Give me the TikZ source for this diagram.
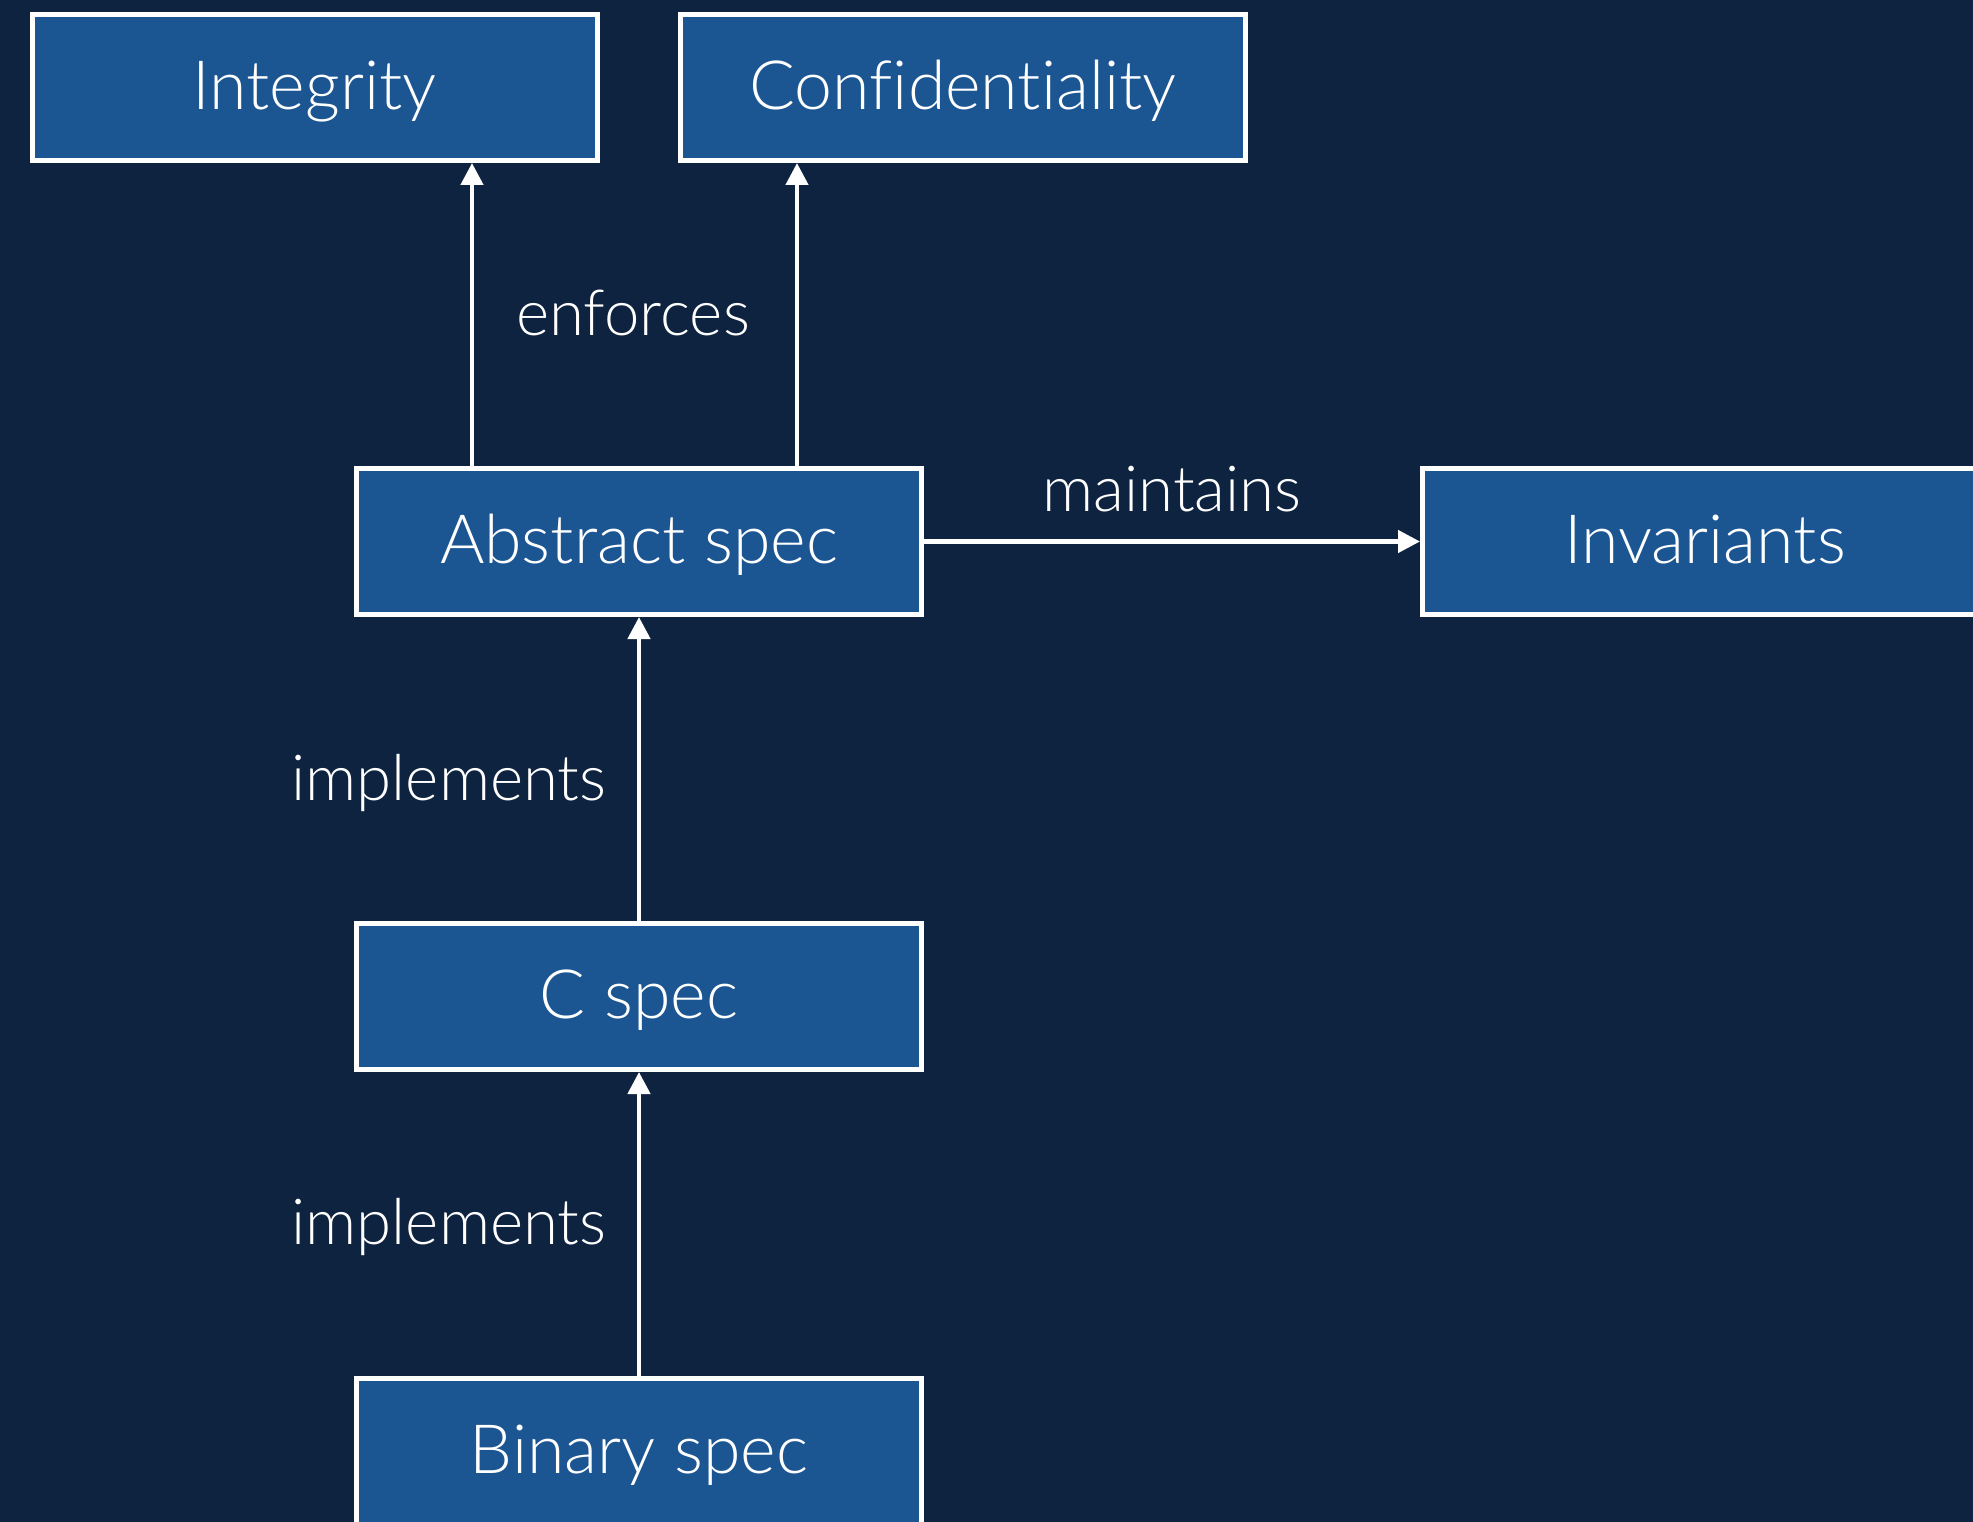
\documentclass[tikz,border=0pt]{standalone}
\usepackage{fontspec}
\setmainfont{Lato}[UprightFont=* Light, Ligatures=NoCommon]
\usetikzlibrary{arrows.meta}
\definecolor{bgnavy}{RGB}{14,35,64}
\definecolor{boxblue}{RGB}{27,85,146}
\begin{document}
\begin{tikzpicture}[x=1pt,y=-1pt,
  specbox/.style={draw=white, line width=5pt, fill=boxblue, text=white,
    minimum width=565pt, minimum height=146pt, inner sep=0pt,
    font=\fontsize{68}{74}\selectfont, text height=52pt, text depth=8pt},
  lbl/.style={text=white, font=\fontsize{63.5}{70}\selectfont, anchor=base, inner sep=0pt},
  arr/.style={draw=white, line width=4.5pt, -{Triangle[length=22pt,width=22pt]}}]
  % canvas
  \fill[bgnavy] (0,0) rectangle (1973,1522);
  \clip (0,0) rectangle (1973,1522);
  \useasboundingbox (0,0) rectangle (1973,1522);

  % boxes
  \node[specbox] (integ) at (314.5,87.5) {Integrity};
  \node[specbox] (conf) at (963,87.5) {Confidentiality};
  \node[specbox] (abs) at (639,541.5) {Abstract spec};
  \node[specbox] (inv) at (1705,541.5) {Invariants};
  \node[specbox] (cspec) at (639,996.5) {C spec};
  \node[specbox] (bin) at (639,1451.5) {Binary spec};

  % connector start points on the top edge of the abstract spec
  \coordinate (e1) at ([xshift=-167pt]abs.north);
  \coordinate (e2) at ([xshift=158pt]abs.north);

  % connectors
  \draw[arr] (e1) -- (e1 |- integ.south);
  \draw[arr] (e2) -- (e2 |- conf.south);
  \draw[arr] (abs.east) -- (inv.west);
  \draw[arr] (cspec.north) -- (abs.south);
  \draw[arr] (bin.north) -- (cspec.south);

  % labels
  \node[lbl] (lenf) at (633,335) {enforces};
  \node[lbl] (lmain) at (1172,511) {maintains};
  \node[lbl] (limp1) at (449,800) {implements};
  \node[lbl] (limp2) at (449,1244) {implements};
\end{tikzpicture}
\end{document}
